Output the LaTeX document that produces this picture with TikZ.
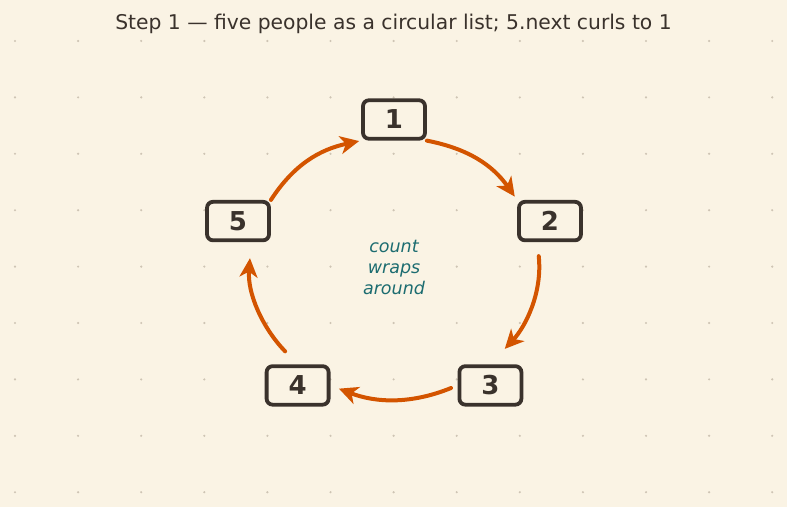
\documentclass[tikz,border=0pt]{standalone}
\usepackage{fontspec}
\setmainfont{DejaVu Sans}
\usetikzlibrary{arrows.meta,calc}
\definecolor{paper}{RGB}{250,243,228}
\definecolor{ink}{RGB}{58,50,44}
\definecolor{rust}{RGB}{211,84,0}
\definecolor{teal}{RGB}{28,108,112}
\definecolor{dotc}{RGB}{206,196,180}

\begin{document}
\begin{tikzpicture}[x=1pt,y=1pt,
  person/.style={draw=ink,line width=3.8pt,rounded corners=6pt,fill=paper,
    minimum width=62pt,minimum height=38.5pt,inner sep=0pt,text=ink,
    font=\fontsize{26}{30}\selectfont\bfseries},
  link/.style={draw=rust,line width=4pt,line cap=round,
    -{Stealth[length=19pt,width=18pt,inset=5.5pt]}}]
  \fill[paper] (0,0) rectangle (787,507);
  \useasboundingbox (0,0) rectangle (787,507);
  % dot grid
  \foreach \i in {0,...,12} \foreach \j in {0,...,8}
    \fill[dotc] (15+63.1*\i,466-56.4*\j) circle (1.2pt);
  \node[text=ink,font=\fontsize{20.3}{24}\selectfont] (title) at (393.5,483.5)
    {Step 1 — five people as a circular list; 5.next curls to 1};
  % people round the ring
  \coordinate (c) at (394,240.5);
  \foreach \i in {1,...,5}
    \node[person] (n\i) at ($(c)+({162-72*\i}:164pt and 147pt)$) {\i};
  \node[text=teal,align=center,font=\fontsize{17.5}{20.8}\selectfont\itshape] (note) at (394,239.5)
    {count\\wraps\\around};
  % next pointers
  \draw[link,shorten >=2pt] (n5.north east) to[out=57,in=192] (n1.south west);
  \draw[link,shorten >=4pt] (n1.south east) to[out=-11,in=125] (n2.north west);
  \draw[link,shorten <=14pt,shorten >=21pt] (n2.-121) to[out=-84,in=47] (n3.north);
  \draw[link,shorten <=7pt,shorten >=9pt] (n3.west) to[out=202,in=-21] (n4.east);
  \draw[link,shorten <=18pt,shorten >=16pt] (n4.north) to[out=134,in=-94.5] (n5.-58);
\end{tikzpicture}
\end{document}
